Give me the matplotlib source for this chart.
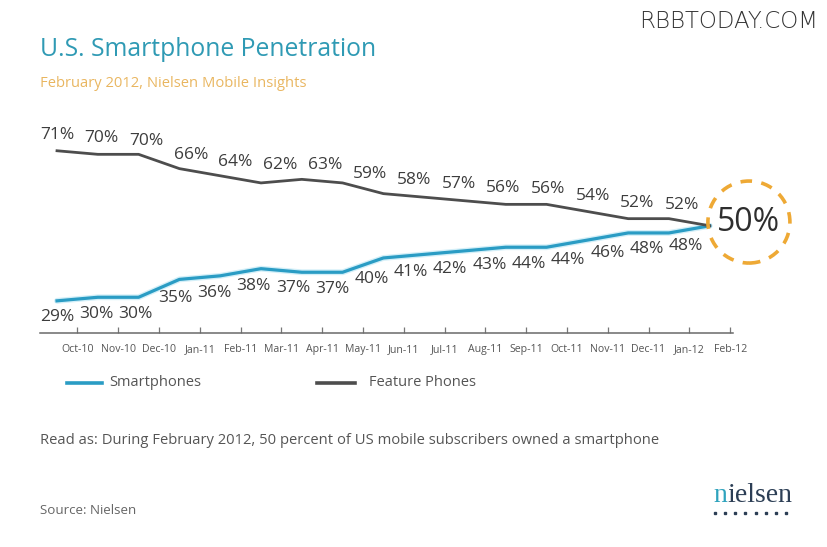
import numpy as np
import matplotlib
matplotlib.use("Agg")
import matplotlib.pyplot as plt
from matplotlib.patches import Circle
from matplotlib.lines import Line2D
from matplotlib.text import Annotation
from matplotlib.transforms import ScaledTranslation

# ---------------- data ----------------
months = ["Oct-10", "Nov-10", "Dec-10", "Jan-11", "Feb-11", "Mar-11", "Apr-11",
          "May-11", "Jun-11", "Jul-11", "Aug-11", "Sep-11", "Oct-11", "Nov-11",
          "Dec-11", "Jan-12", "Feb-12"]
smartphones = [29, 30, 30, 35, 36, 38, 37, 37, 41, 42, 43, 44, 44, 46, 48, 48, 50]
feature_phones = [71, 70, 70, 66, 64, 62, 63, 62, 59, 58, 57, 56, 56, 54, 52, 52, 50]
# value labels exactly as printed on the chart
smart_labels = [29, 30, 30, 35, 36, 38, 37, 37, 40, 41, 42, 43, 44, 44, 46, 48, 48]
feature_labels = [71, 70, 70, 66, 64, 62, 63, 59, 58, 57, 56, 56, 54, 52, 52]
final_value = 50

title = "U.S. Smartphone Penetration"
subtitle = "February 2012, Nielsen Mobile Insights"
note = "Read as: During February 2012, 50 percent of US mobile subscribers owned a smartphone"
source = "Source: Nielsen"

# ---------------- style ----------------
W, H, DPI = 827, 547, 100
FONT = ["Open Sans", "DejaVu Sans"]
plt.rcParams["font.family"] = FONT
BLUE = "#2a9cc4"
GREY = "#4d4d4d"
TXT = "#3d3d3d"
ORANGE = "#eea935"

fig = plt.figure(figsize=(W / DPI, H / DPI), dpi=DPI, facecolor="white")

# axes placed in pixel terms
ax_l, ax_r, ax_b, ax_t = 40, 733, 333, 118.6
ax = fig.add_axes([ax_l / W, (H - ax_b) / H, (ax_r - ax_l) / W, (ax_b - ax_t) / H])
ax.set_facecolor("none")

x = np.arange(len(months))
ax.plot(x, smartphones, color="#d3eff8", lw=4.2, solid_capstyle="round", zorder=2)
ax.plot(x, smartphones, color=BLUE, lw=2.3, solid_joinstyle="round", zorder=3)
ax.plot(x, feature_phones, color=GREY, lw=2.0, solid_joinstyle="round", zorder=3)

ax.set_xlim(-0.417, 16.57)
ax.set_ylim(20, 80)

for s in ["top", "right", "left"]:
    ax.spines[s].set_visible(False)
ax.spines["bottom"].set_color("#6a6a6a")
ax.spines["bottom"].set_linewidth(1.1)
ax.set_yticks([])
ax.set_xticks(x + 0.5)
ax.set_xticklabels(months)
ax.tick_params(axis="x", direction="in", length=4, width=0.9, color="#777777",
               pad=8, labelsize=7.6, labelcolor="#555555")

# value labels
sx = np.linspace(0, 15.42, len(smart_labels))
sy = np.interp(sx, x, smartphones) - 4.6
for xx, yy, v in zip(sx, sy, smart_labels):
    ax.text(xx, yy, f"{v}%", ha="center", va="center", fontsize=12.5, color=TXT, zorder=4)

fx = np.linspace(0, 15.32, len(feature_labels))
fy = np.interp(fx, x, feature_phones) + 4.5
for xx, yy, v in zip(fx, fy, feature_labels):
    ax.text(xx, yy, f"{v}%", ha="center", va="center", fontsize=12.5, color=TXT, zorder=4)

# highlighted final value with dashed circle
cx, cy = 16.96, 51.05
circ = Circle((0, 0), radius=0.41, fill=False, edgecolor=ORANGE, lw=2.6,
              linestyle=(0, (3.2, 2.6)),
              transform=fig.dpi_scale_trans + ScaledTranslation(cx, cy, ax.transData),
              clip_on=False, zorder=5)
ax.add_artist(circ)
ax.text(cx, cy, f"{final_value}%", ha="center", va="center", fontsize=23,
        color="#2e2e2e", clip_on=False, zorder=6)

# ---------------- header ----------------
fig.text(40 / W, 1 - 49 / H, title, ha="left", va="center", fontsize=17.8,
         color="#2f9ab4")
fig.text(40 / W, 1 - 83 / H, subtitle, ha="left", va="center", fontsize=10.6,
         color="#e9b660")
fig.text(818 / W, 1 - 22 / H, "RBBTODAY.COM", ha="right", va="center", fontsize=16.5,
         color="#333333", family=["DejaVu Sans"], fontweight="light")

# ---------------- legend ----------------
ly = 1 - 383 / H
fig.add_artist(Line2D([67 / W, 102 / W], [ly, ly], color=BLUE, lw=2.6))
fig.text(109 / W, ly, "Smartphones", ha="left", va="center", fontsize=10.5, color="#555555")
fig.add_artist(Line2D([317 / W, 355 / W], [ly, ly], color=GREY, lw=2.6))
fig.text(369 / W, ly, "Feature Phones", ha="left", va="center", fontsize=10.5, color="#555555")

# ---------------- footer ----------------
fig.text(40 / W, 1 - 441 / H, note, ha="left", va="center", fontsize=10.6, color="#555555")
fig.text(40 / W, 1 - 510 / H, source, ha="left", va="center", fontsize=9.6, color="#666666")

# nielsen logo
serif = ["Liberation Serif", "DejaVu Serif"]
n_txt = fig.text(713 / W, 1 - 508 / H, "n", ha="left", va="bottom", fontsize=20,
                 color="#2fa3bd", family=serif)
fig.add_artist(Annotation("ielsen", xy=(1, 0), xycoords=n_txt,
                          ha="left", va="bottom", fontsize=20,
                          color="#2c3e55", family=serif))
dots_x = np.linspace(715, 786, 8) / W
fig.add_artist(Line2D(dots_x, [1 - 513 / H] * 8, ls="none", marker="s", ms=1.6,
                      color="#2c3e55"))

fig.savefig("out.png", dpi=DPI, facecolor="white")
